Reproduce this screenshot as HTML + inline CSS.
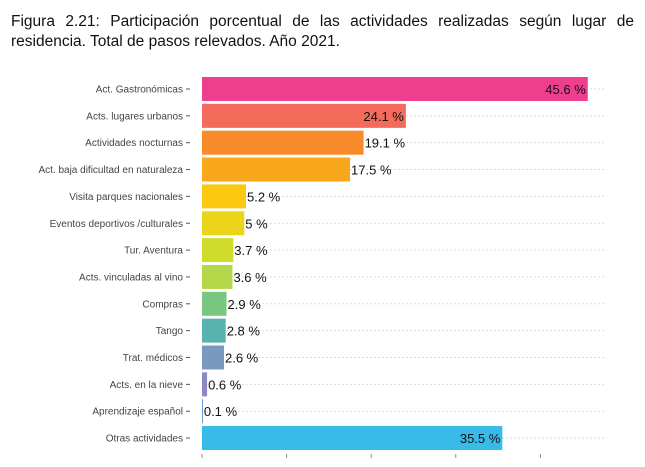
<!DOCTYPE html>
<html><head><meta charset="utf-8"><style>
body{margin:0;background:#fff;width:645px;height:467px;overflow:hidden;font-family:"Liberation Sans",sans-serif}
#title{position:absolute;left:11px;top:12px;width:623px;font-size:15.5px;line-height:20px;color:#111;text-align:justify;text-align-last:left}
</style></head><body>
<div id="title">Figura 2.21: Participación porcentual de las actividades realizadas según lugar de residencia. Total de pasos relevados. Año 2021.</div>
<svg id="chart" width="645" height="467" style="position:absolute;left:0;top:0"></svg>
<script>
const categories=["Act. Gastronómicas","Acts. lugares urbanos","Actividades nocturnas","Act. baja dificultad en naturaleza","Visita parques nacionales","Eventos deportivos /culturales","Tur. Aventura","Acts. vinculadas al vino","Compras","Tango","Trat. médicos","Acts. en la nieve","Aprendizaje español","Otras actividades"];
const values=[45.6,24.1,19.1,17.5,5.2,5,3.7,3.6,2.9,2.8,2.6,0.6,0.1,35.5];
const valueLabels=["45.6 %","24.1 %","19.1 %","17.5 %","5.2 %","5 %","3.7 %","3.6 %","2.9 %","2.8 %","2.6 %","0.6 %","0.1 %","35.5 %"];
const ticks=[0,10,20,30,40];
const colors=["#EE3E8E","#F26B5B","#F78B2A","#F9A81B","#FDC80E","#EBD51A","#D0DC2C","#B5D84A","#79C67F","#58B3B0","#7B98C0","#8B86C4","#6A9AD0","#38BBE9"];
const svg=document.getElementById('chart');const NS="http://www.w3.org/2000/svg";
const x0=202,pxPer=8.46,y0=89,step=26.85,bh=24;
const xs=v=>x0+v*pxPer, ys=i=>y0+i*step;
function mk(t,a,txt){const e=document.createElementNS(NS,t);for(const k in a)e.setAttribute(k,a[k]);if(txt!=null)e.textContent=txt;svg.appendChild(e);return e;}
categories.forEach((c,i)=>{
 const g=mk('line',{x1:x0,x2:605,y1:ys(i),y2:ys(i),stroke:"#ddd","stroke-dasharray":"2,2"});
 
 
});
ticks.forEach(t=>{
 const l=mk('line',{x1:xs(t),x2:xs(t),y1:454,y2:458,stroke:"#888"});
 
 
});
categories.forEach((c,i)=>{
 const y=ys(i);
 const lb=mk('text',{x:183,y:y+3.5,"text-anchor":"end","font-size":"10",fill:"#444"},c);
 
 
 const tk=mk('line',{x1:186,x2:190,y1:y,y2:y,stroke:"#555"});
 
 
 const w=Math.max(values[i]*pxPer,1);
 const r=mk('rect',{x:x0,y:y-bh/2,width:w,height:bh,fill:colors[i]});
 
 
 const inside=values[i]>20;
 const vt=mk('text',{x:inside?xs(values[i])-2:xs(values[i])+1,y:y+5,"text-anchor":inside?"end":"start","font-size":"13",fill:"#111"},valueLabels[i]);
 
 
});
</script>
</body></html>
